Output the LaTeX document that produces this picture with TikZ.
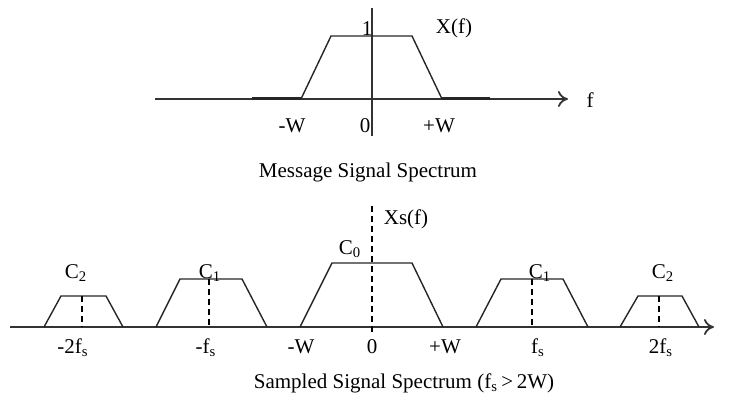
\documentclass[tikz,border=0pt]{standalone}
\usepackage{fontspec}
\setmainfont{Liberation Serif}
\usetikzlibrary{arrows.meta}
\begin{document}
\begin{tikzpicture}[x=0.5pt,y=-0.5pt,
  axis/.style={line width=0.9pt,color=black!80,-{To[length=5pt,width=8pt]}},
  spec/.style={line width=0.7pt,color=black!85},
  thickseg/.style={line width=1.5pt,color=black!85},
  dashline/.style={line width=0.7pt,dash pattern=on 3pt off 2pt},
  lbl/.style={inner sep=0pt,font=\fontsize{10.5}{12}\selectfont}]
\useasboundingbox (0,0) rectangle (734,395);
% ---- top plot ----
\draw[axis] (155,99) -- (568,99);
\draw[line width=0.8pt,color=black!80] (372,8) -- (372,136);
\draw[thickseg] (252,99) -- (301,99);
\draw[thickseg] (442,99) -- (490,99);
\draw[spec] (301,99) -- (331,36) -- (412,36) -- (442,99);
\node[lbl] (one) at (367,29) {1};
\node[lbl] (xf) at (454,28) {X(f)};
\node[lbl] (f) at (590,100) {f};
\node[lbl] (mw) at (292,126) {-W};
\node[lbl] (z1) at (365,126) {0};
\node[lbl] (pw) at (439,126) {+W};
\node[lbl] (cap1) at (368,172) {Message Signal Spectrum};
% ---- bottom plot ----
\draw[axis] (10,327) -- (714,327);
\draw[dashline] (372,206) -- (372,334);
\draw[spec] (300,327) -- (332,263) -- (412,263) -- (443,327);
\draw[spec] (156,327) -- (180,279) -- (242,279) -- (267,327);
\draw[dashline] (209,279) -- (209,327);
\draw[spec] (44,327) -- (61,296) -- (106,296) -- (123,327);
\draw[dashline] (82,296) -- (82,327);
\draw[spec] (476,327) -- (501,279) -- (563,279) -- (588,327);
\draw[dashline] (532,279) -- (532,327);
\draw[spec] (620,327) -- (638,296) -- (682,296) -- (699,327);
\draw[dashline] (659,296) -- (659,327);
\node[lbl] (xsf) at (406,219) {Xs(f)};
\node[lbl] (c0) at (350,249) {C\textsubscript{0}};
\node[lbl] (c1l) at (210,273) {C\textsubscript{1}};
\node[lbl] (c2l) at (76,273) {C\textsubscript{2}};
\node[lbl] (c1r) at (540,273) {C\textsubscript{1}};
\node[lbl] (c2r) at (663,273) {C\textsubscript{2}};
\node[lbl] (m2fs) at (73,348) {-2f\textsubscript{s}};
\node[lbl] (mfs) at (206,348) {-f\textsubscript{s}};
\node[lbl] (mw2) at (301,347) {-W};
\node[lbl] (z2) at (372,347) {0};
\node[lbl] (pw2) at (445,347) {+W};
\node[lbl] (fs) at (538,348) {f\textsubscript{s}};
\node[lbl] (tfs) at (661,348) {2f\textsubscript{s}};
\node[lbl] (cap2) at (404,383) {Sampled Signal Spectrum (f\textsubscript{s}\,>\,2W)};
\end{tikzpicture}
\end{document}
